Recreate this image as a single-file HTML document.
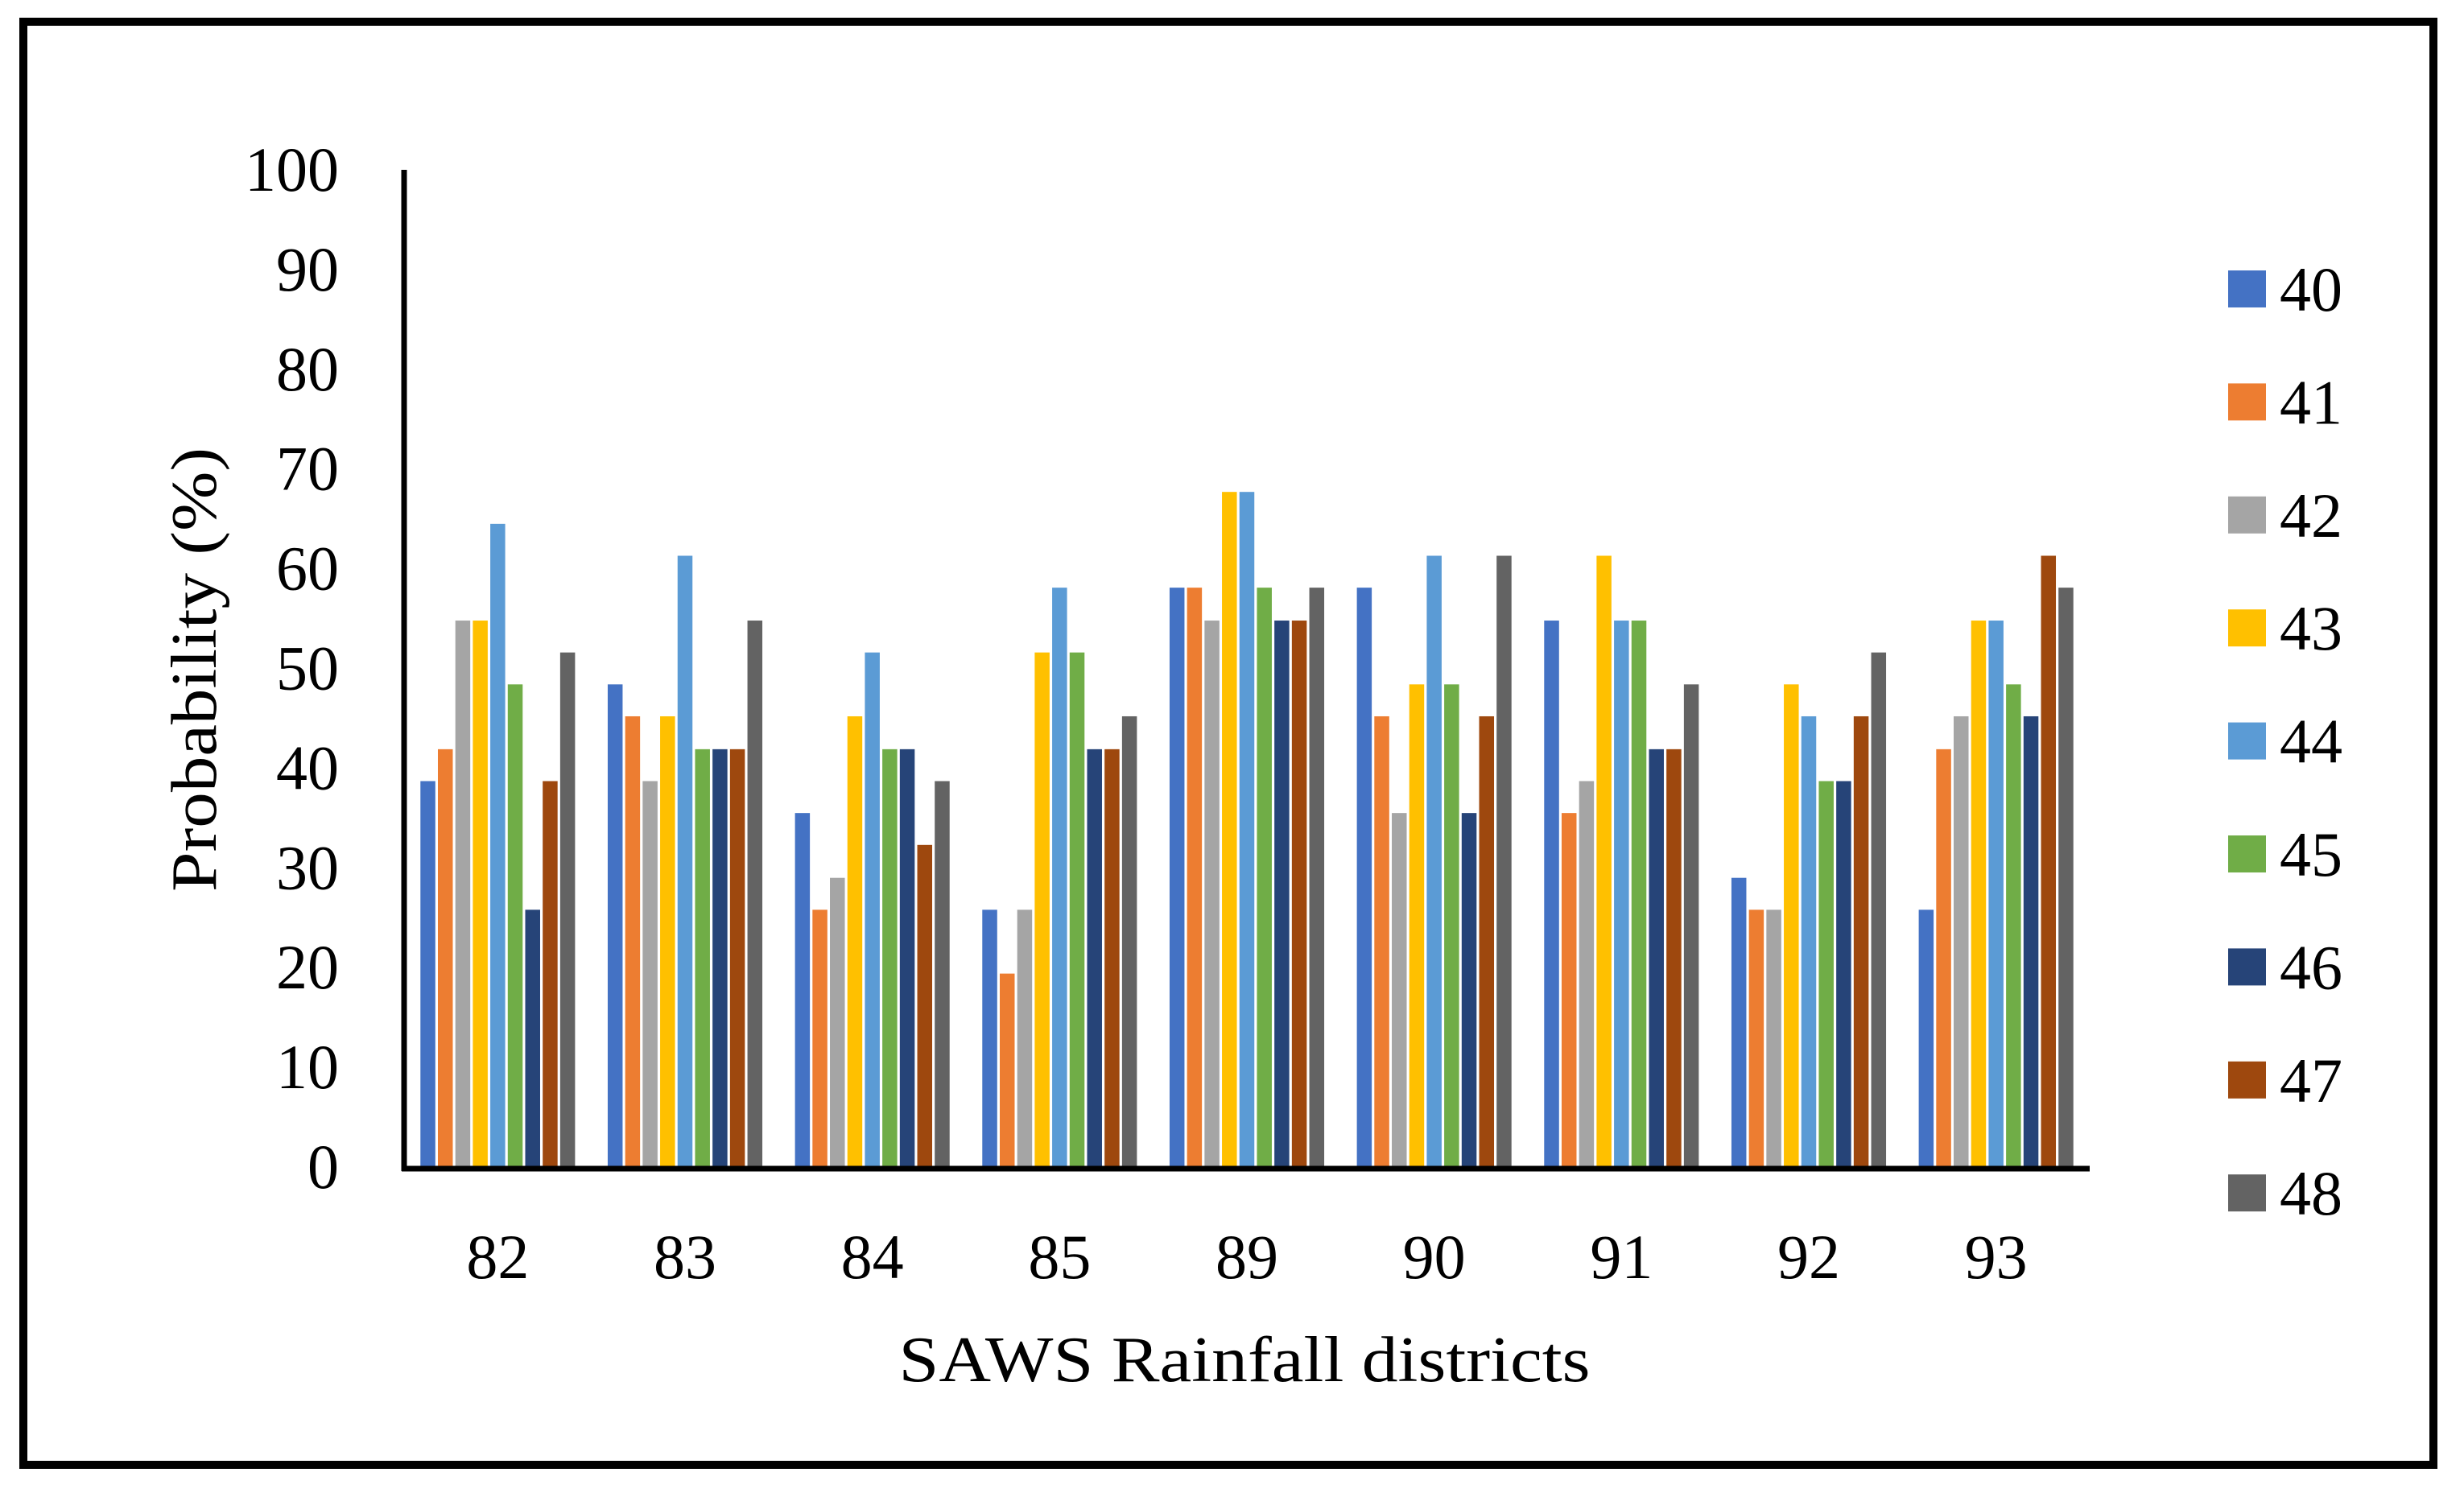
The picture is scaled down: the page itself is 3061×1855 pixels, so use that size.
<!DOCTYPE html>
<html><head><meta charset="utf-8"><style>
html,body{margin:0;padding:0;background:#fff;}
svg{display:block;}
text{font-family:"Liberation Serif",serif;fill:#000;}
</style></head>
<body>
<svg id="chart" width="3061" height="1855" viewBox="0 0 3061 1855" xmlns="http://www.w3.org/2000/svg">
<rect x="29" y="27" width="2994" height="1793" fill="none" stroke="#000" stroke-width="10"/>
<g id="bars"></g>
<g id="yticks"></g>
<g id="xticks"></g>
<g id="legend"></g>
<line x1="502" y1="211" x2="502" y2="1455" stroke="#000" stroke-width="7"/>
<line x1="499" y1="1452" x2="2596" y2="1452" stroke="#000" stroke-width="7"/>
<text transform="translate(268,832) rotate(-90)" text-anchor="middle" font-size="80" textLength="552" lengthAdjust="spacingAndGlyphs">Probability (%)</text>
<text x="1546" y="1716" text-anchor="middle" font-size="80" textLength="859" lengthAdjust="spacingAndGlyphs">SAWS Rainfall districts</text>
</svg>
<script>
const categories = ["82","83","84","85","89","90","91","92","93"];
const seriesNames = ["40","41","42","43","44","45","46","47","48"];
const colors = ["#4472C4","#ED7D31","#A5A5A5","#FFC000","#5B9BD5","#70AD47","#264478","#9E480E","#636363"];
const s40 = [38.7,48.4,35.5,25.8,58.1,58.1,54.8,29.0,25.8];
const s41 = [41.9,45.2,25.8,19.4,58.1,45.2,35.5,25.8,41.9];
const s42 = [54.8,38.7,29.0,25.8,54.8,35.5,38.7,25.8,45.2];
const s43 = [54.8,45.2,45.2,51.6,67.7,48.4,61.3,48.4,54.8];
const s44 = [64.5,61.3,51.6,58.1,67.7,61.3,54.8,45.2,54.8];
const s45 = [48.4,41.9,41.9,51.6,58.1,48.4,54.8,38.7,48.4];
const s46 = [25.8,41.9,41.9,41.9,54.8,35.5,41.9,38.7,45.2];
const s47 = [38.7,41.9,32.3,41.9,54.8,45.2,41.9,45.2,61.3];
const s48 = [51.6,54.8,38.7,45.2,58.1,61.3,48.4,51.6,58.1];
const series = [s40,s41,s42,s43,s44,s45,s46,s47,s48];
const yTicks = [0,10,20,30,40,50,60,70,80,90,100];

const NS="http://www.w3.org/2000/svg";
const x0=502,x1=2596,yBase=1450,yTop=211;
const yScale=v=>yBase-(v/100)*(yBase-yTop);
const gw=(x1-x0)/categories.length;
const pitch=21.7,bw=18.5;
function mk(t,a){const e=document.createElementNS(NS,t);for(const k in a)e.setAttribute(k,a[k]);return e;}
const gb=document.getElementById('bars');
categories.forEach((c,ci)=>{
  const start=x0+ci*gw+gw/2-pitch*series.length/2+(pitch-bw)/2;
  series.forEach((s,si)=>{
    const v=s[ci];
    const r=mk('rect',{x:start+si*pitch,y:yScale(v),width:bw,height:yBase-yScale(v),fill:colors[si]});
    
    
    gb.appendChild(r);
  });
});
const gy=document.getElementById('yticks');
yTicks.forEach(t=>{
  const e=mk('text',{x:421,y:yScale(t)+26,'text-anchor':'end','font-size':78});
  e.textContent=t;
  
  
  gy.appendChild(e);
});
const gx=document.getElementById('xticks');
categories.forEach((c,ci)=>{
  const e=mk('text',{x:x0+ci*gw+gw/2,y:1588,'text-anchor':'middle','font-size':78});
  e.textContent=c;
  
  
  gx.appendChild(e);
});
const gl=document.getElementById('legend');
seriesNames.forEach((n,i)=>{
  const cy=359+i*140.4;
  const g=mk('g',{});
  
  
  const r=mk('rect',{x:2768,y:cy-23,width:47,height:46,fill:colors[i]});
  
  
  const t=mk('text',{x:2832,y:cy+27,'font-size':78});
  t.textContent=n;
  
  
  g.appendChild(r);g.appendChild(t);gl.appendChild(g);
});
</script>
</body></html>
